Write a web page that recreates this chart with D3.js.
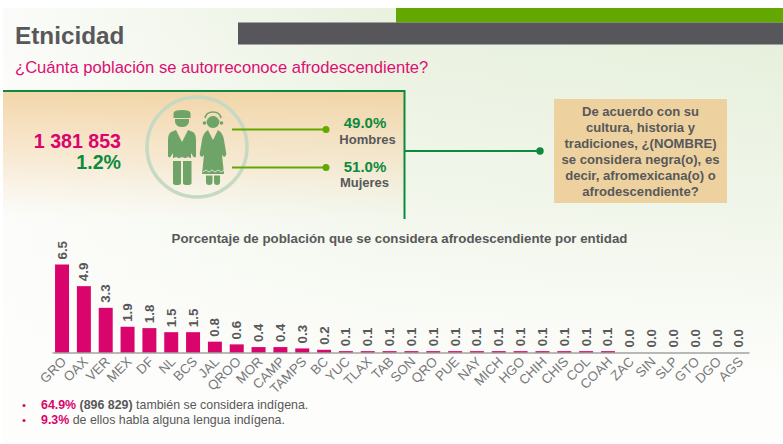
<!DOCTYPE html>
<html>
<head>
<meta charset="utf-8">
<script src="https://cdn.jsdelivr.net/npm/d3@7"></script>
<style>
  html, body { margin: 0; padding: 0; background: #fff; }
  svg { display: block; }
  text { font-family: "Liberation Sans", Arial, sans-serif; }
</style>
</head>
<body>
<div id="chart"></div>
<script>
const states = ['GRO', 'OAX', 'VER', 'MEX', 'DF', 'NL', 'BCS', 'JAL', 'QROO', 'MOR', 'CAMP', 'TAMPS', 'BC', 'YUC', 'TLAX', 'TAB',
  'SON', 'QRO', 'PUE', 'NAY', 'MICH', 'HGO', 'CHIH', 'CHIS', 'COL', 'COAH', 'ZAC', 'SIN', 'SLP', 'GTO', 'DGO', 'AGS']
const shares = [6.5, 4.9, 3.3, 1.9, 1.8, 1.5, 1.5, 0.8, 0.6, 0.4, 0.4, 0.3, 0.2, 0.1, 0.1, 0.1,
  0.1, 0.1, 0.1, 0.1, 0.1, 0.1, 0.1, 0.1, 0.1, 0.1, 0.0, 0.0, 0.0, 0.0, 0.0, 0.0]
const questionLines = ['De acuerdo con su', 'cultura, historia y', 'tradiciones, ¿(NOMBRE)', 'se considera negra(o), es', 'decir, afromexicana(o) o', 'afrodescendiente?']

const PINK = '#d9046c'
const GREEN = '#0c8a3e'
const LIME = '#62a800'
const GREY = '#58585a'

const svg = d3.select('#chart').append('svg')
  .attr('width', 783)
  .attr('height', 444)

// background gradients
const defs = svg.append('defs')
const bgH = defs.append('linearGradient').attr('id', 'bgH').attr('x1', 0).attr('x2', 1).attr('y1', 0).attr('y2', 0)
bgH.append('stop').attr('offset', 0).attr('stop-color', '#fbfcf9')
bgH.append('stop').attr('offset', 0.5).attr('stop-color', '#e9f1df')
bgH.append('stop').attr('offset', 1).attr('stop-color', '#e5efda')
const bgV = defs.append('linearGradient').attr('id', 'bgV').attr('x1', 0).attr('x2', 0).attr('y1', 0).attr('y2', 1)
bgV.append('stop').attr('offset', 0).attr('stop-color', '#fdfdfb').attr('stop-opacity', 0)
bgV.append('stop').attr('offset', 0.45).attr('stop-color', '#fdfdfb').attr('stop-opacity', 0.45)
bgV.append('stop').attr('offset', 0.85).attr('stop-color', '#fdfdfb').attr('stop-opacity', 1)
bgV.append('stop').attr('offset', 1).attr('stop-color', '#fdfdfb').attr('stop-opacity', 1)
const band = defs.append('linearGradient').attr('id', 'band').attr('x1', 0).attr('x2', 0).attr('y1', 0).attr('y2', 1)
band.append('stop').attr('offset', 0).attr('stop-color', '#f2cf9b').attr('stop-opacity', 0.85)
band.append('stop').attr('offset', 0.55).attr('stop-color', '#f6dcb8').attr('stop-opacity', 0.55)
band.append('stop').attr('offset', 1).attr('stop-color', '#f6e4cc').attr('stop-opacity', 0)

svg.append('rect').attr('x', 3).attr('y', 8).attr('width', 780).attr('height', 436).attr('fill', 'url(#bgH)')
svg.append('rect').attr('x', 3).attr('y', 8).attr('width', 780).attr('height', 436).attr('fill', 'url(#bgV)')
svg.append('rect').attr('x', 3).attr('y', 91).attr('width', 401).attr('height', 128).attr('fill', 'url(#band)')

// header
svg.append('rect').attr('x', 396).attr('y', 8).attr('width', 387).attr('height', 14.5).attr('fill', LIME)
svg.append('rect').attr('x', 238).attr('y', 22.5).attr('width', 545).attr('height', 22).attr('fill', '#57565b')
svg.append('text').attr('x', 15).attr('y', 43.5).attr('font-size', 24.3).attr('font-weight', 'bold').attr('fill', GREY).text('Etnicidad')
svg.append('text').attr('x', 15).attr('y', 72.5).attr('font-size', 16.6).attr('fill', '#dd0f72').text('¿Cuánta población se autorreconoce afrodescendiente?')

// green frame and connector
svg.append('path').attr('d', 'M3,91H404.5V219').attr('fill', 'none').attr('stroke', GREEN).attr('stroke-width', 2)
svg.append('line').attr('x1', 405).attr('x2', 540).attr('y1', 151).attr('y2', 151).attr('stroke', GREEN).attr('stroke-width', 2)
svg.append('circle').attr('cx', 540).attr('cy', 151).attr('r', 3.7).attr('fill', GREEN)

// totals
svg.append('text').attr('x', 121).attr('y', 147.5).attr('text-anchor', 'end').attr('font-size', 19.6).attr('font-weight', 'bold').attr('fill', PINK).text('1 381 853')
svg.append('text').attr('x', 121).attr('y', 168.5).attr('text-anchor', 'end').attr('font-size', 19.6).attr('font-weight', 'bold').attr('fill', GREEN).text('1.2%')

// people icon
svg.append('circle').attr('cx', 197).attr('cy', 147).attr('r', 50).attr('fill', 'none').attr('stroke', '#c6d9c2').attr('stroke-width', 3.5)
const icon = svg.append('g').attr('fill', '#6fa468')
icon.append('path').attr('d', 'M173.5,113Q174,110 182,110Q190,110 190.5,113V118H173.5Z')
icon.append('path').attr('d', 'M175,119H189V122Q188,127 182,127Q176,127 175,122Z')
icon.append('path').attr('d', 'M176,130L182,142L188,130L193,132Q196,134 196,140V156Q196,158 193.5,157L191,153V158H173V153L170.5,157Q168,158 168,156V140Q168,134 171,132Z')
icon.append('path').attr('d', 'M173,161H181V183Q181,185 177,185Q173,185 173,183Z')
icon.append('path').attr('d', 'M183,161H191.5V183Q191.5,185 187,185Q183,185 183,183Z')
icon.append('path').attr('d', 'M205,118Q206,112 213,112Q220,112 221,118').attr('fill', 'none').attr('stroke', '#6fa468').attr('stroke-width', 1.6)
icon.append('circle').attr('cx', 204.5).attr('cy', 123).attr('r', 1.8)
icon.append('circle').attr('cx', 221.5).attr('cy', 123).attr('r', 1.8)
icon.append('path').attr('d', 'M206.5,121Q209,116 213,116Q217,116 219.5,121Q219,128 213,128Q207,128 206.5,121Z')
icon.append('path').attr('d', 'M208,130L213,140L218,130Q223,133 224,140L226,152Q227,156 224,157L222,155L224,174H202L204,155L202,157Q199,156 200,152L202,140Q203,133 208,130Z')
icon.append('path').attr('d', 'M206,175.5H212.5V182Q212.5,185 209,185Q206,185 206,182Z')
icon.append('path').attr('d', 'M214,175.5H220V182Q220,185 217,185Q214,185 214,182Z')
svg.append('path').attr('d', 'M173,159l3,-2l3,2l3,-2l3,2l3,-2l3,2').attr('fill', 'none').attr('stroke', '#eef0e4').attr('stroke-width', 0.8)
svg.append('path').attr('d', 'M203,172l3,-2l3,2l3,-2l3,2l3,-2l3,2l3,-2').attr('fill', 'none').attr('stroke', '#eef0e4').attr('stroke-width', 0.8)

// sex split
const splitRows = [
  { y: 129.5, pct: '49.0%', label: 'Hombres', py: 128, ly: 143.5, lx: 367.5 },
  { y: 167.5, pct: '51.0%', label: 'Mujeres', py: 172, ly: 187, lx: 364.5 }
]
splitRows.forEach(r => {
  svg.append('line').attr('x1', 232).attr('x2', 326).attr('y1', r.y).attr('y2', r.y).attr('stroke', LIME).attr('stroke-width', 2)
  svg.append('circle').attr('cx', 326).attr('cy', r.y).attr('r', 3.5).attr('fill', LIME)
  svg.append('text').attr('x', 365).attr('y', r.py).attr('text-anchor', 'middle').attr('font-size', 15).attr('font-weight', 'bold').attr('fill', GREEN).text(r.pct)
  svg.append('text').attr('x', r.lx).attr('y', r.ly).attr('text-anchor', 'middle').attr('font-size', 13).attr('font-weight', 'bold').attr('fill', GREY).text(r.label)
})

// question box
svg.append('rect').attr('x', 554).attr('y', 99).attr('width', 173).attr('height', 104).attr('fill', '#edd2a0')
svg.selectAll('.question')
  .data(questionLines)
  .enter().append('text')
  .attr('class', 'question')
  .attr('x', 640.5)
  .attr('y', (d, i) => 116 + i * 16)
  .attr('text-anchor', 'middle')
  .attr('font-size', 13.1)
  .attr('font-weight', 'bold')
  .attr('fill', GREY)
  .text(d => d)

// bar chart
svg.append('text').attr('x', 399.5).attr('y', 243).attr('text-anchor', 'middle').attr('font-size', 13.3).attr('font-weight', 'bold').attr('fill', GREY)
  .text('Porcentaje de población que se considera afrodescendiente por entidad')

const xScale = d3.scaleBand().domain(states).range([52, 749]).paddingInner(0.36).paddingOuter(0.14)
const yScale = d3.scaleLinear().domain([0, 6.5]).range([352.5, 264.5])

svg.selectAll('.bar')
  .data(shares)
  .enter().append('rect')
  .attr('class', 'bar')
  .attr('x', (d, i) => xScale(states[i]))
  .attr('y', d => yScale(d))
  .attr('width', xScale.bandwidth())
  .attr('height', d => yScale(0) - yScale(d))
  .attr('fill', PINK)

const xAxis = svg.append('g')
  .attr('class', 'x-axis')
  .attr('transform', `translate(0, ${yScale(0)})`)
  .call(d3.axisBottom(xScale).tickSize(0).tickPadding(0))
xAxis.select('.domain').attr('stroke', '#77777a').attr('stroke-width', 1.2)
xAxis.selectAll('text')
  .attr('font-family', '"Liberation Sans", Arial, sans-serif')
  .attr('font-size', 13.3)
  .attr('fill', '#77777a')
  .attr('text-anchor', 'end')
  .attr('dy', 0)
  .attr('transform', 'translate(5, 10) rotate(-45)')

svg.selectAll('.bar-label')
  .data(shares)
  .enter().append('text')
  .attr('class', 'bar-label')
  .attr('transform', (d, i) => `translate(${xScale(states[i]) + xScale.bandwidth() / 2 + 4.5}, ${yScale(d) - 5}) rotate(-90)`)
  .attr('font-size', 13.3)
  .attr('font-weight', 'bold')
  .attr('fill', GREY)
  .text(d => d.toFixed(1))

// notes
const notes = svg.append('g').attr('font-size', 12.4).attr('fill', GREY)
svg.append('circle').attr('cx', 24).attr('cy', 405.5).attr('r', 1.5).attr('fill', PINK)
svg.append('circle').attr('cx', 24).attr('cy', 420.5).attr('r', 1.5).attr('fill', PINK)
const note1 = notes.append('text').attr('x', 41).attr('y', 409)
note1.append('tspan').attr('font-weight', 'bold').attr('fill', PINK).text('64.9%')
note1.append('tspan').attr('font-weight', 'bold').text(' (896 829)')
note1.append('tspan').text(' también se considera indígena.')
const note2 = notes.append('text').attr('x', 41).attr('y', 424)
note2.append('tspan').attr('font-weight', 'bold').attr('fill', PINK).text('9.3%')
note2.append('tspan').text(' de ellos habla alguna lengua indígena.')
</script>
</body>
</html>
